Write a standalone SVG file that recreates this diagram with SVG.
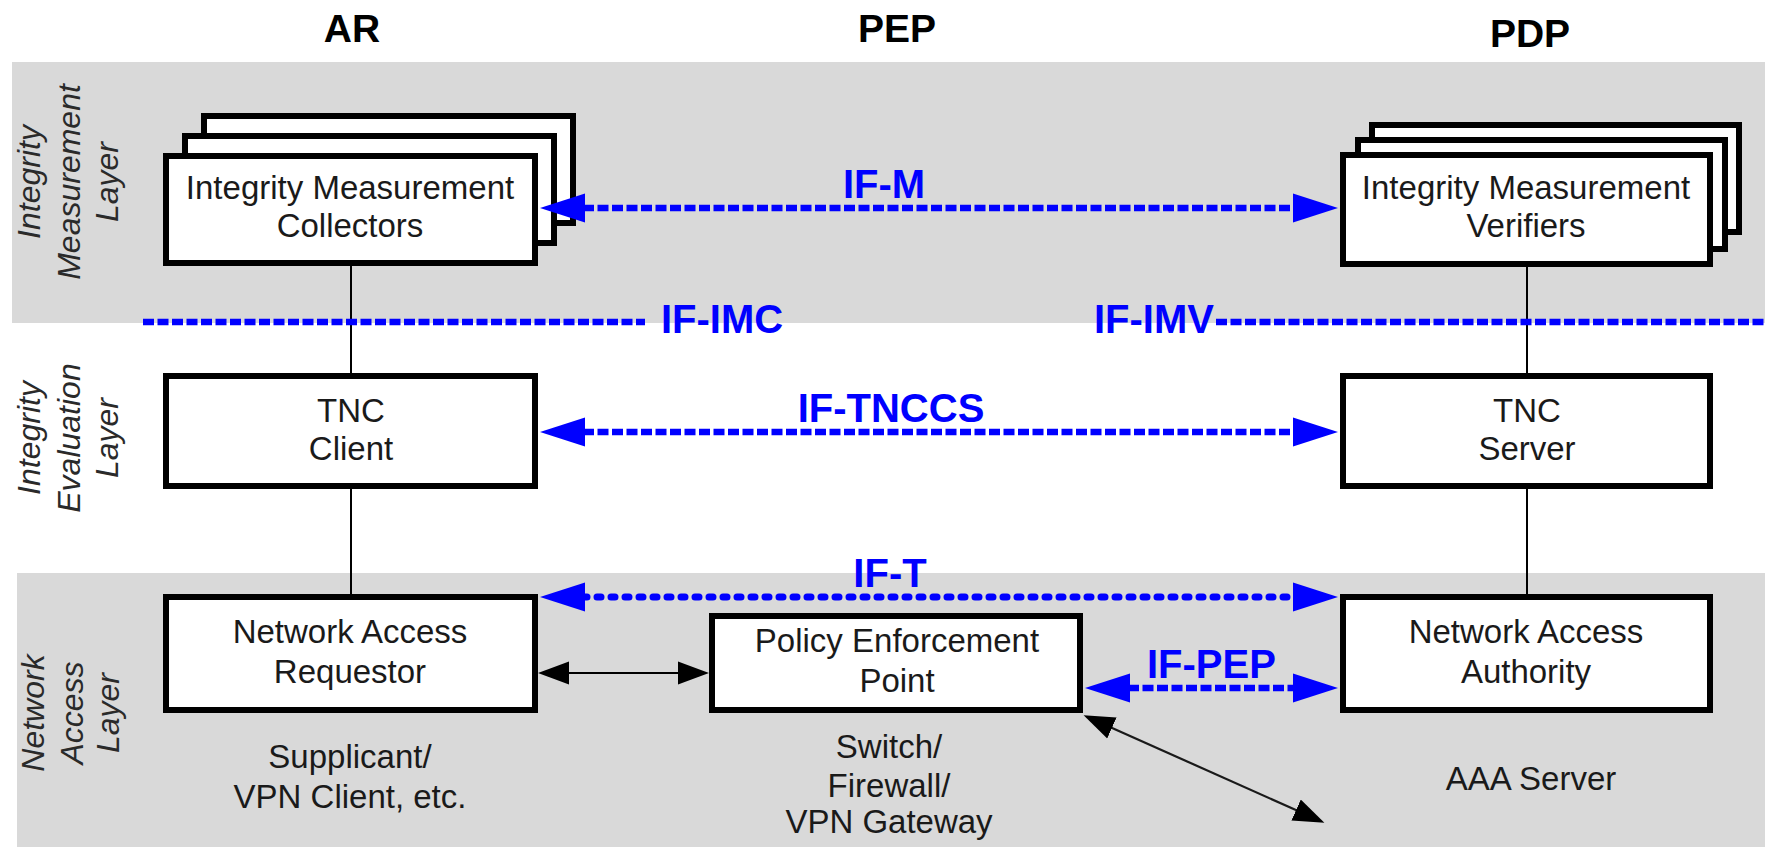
<svg xmlns="http://www.w3.org/2000/svg" width="1765" height="847" viewBox="0 0 1765 847">
<style>
.band{fill:#d9d9d9}
.box{fill:#fff;stroke:#000;stroke-width:6}
.t{font-family:"Liberation Sans",Arial,sans-serif;font-size:33px;fill:#1a1a1a;text-anchor:middle}
.title{font-family:"Liberation Sans",Arial,sans-serif;font-size:39px;font-weight:bold;fill:#000;text-anchor:middle}
.lay{font-family:"Liberation Sans",Arial,sans-serif;font-size:32px;font-style:italic;fill:#2a2a2a;text-anchor:middle}
.if{font-family:"Liberation Sans",Arial,sans-serif;font-size:40px;font-weight:bold;fill:#0000ff}
.dash{fill:none;stroke:#0000ff;stroke-width:6.5;stroke-dasharray:11 3.5}
.dot{fill:none;stroke:#0000ff;stroke-width:7;stroke-linecap:round;stroke-dasharray:4 10}
.thin{fill:none;stroke:#000;stroke-width:2}
.blk{fill:none;stroke:#1a1a1a;stroke-width:2.2}
</style>
<defs>
<marker id="ba" markerUnits="userSpaceOnUse" markerWidth="46" markerHeight="30" viewBox="0 -15 46 30" refX="2" refY="0" orient="auto-start-reverse">
<path d="M0,-14.5 L45,0 L0,14.5 z" fill="#0000ff"/>
</marker>
<marker id="ka" markerUnits="userSpaceOnUse" markerWidth="32" markerHeight="26" viewBox="0 -13 32 26" refX="1" refY="0" orient="auto-start-reverse">
<path d="M0,-11.5 L31,0 L0,11.5 z" fill="#000"/>
</marker>
</defs>
<rect width="1765" height="847" fill="#fff"/>
<g id="bands">
<rect class="band" x="12" y="62" width="1753" height="261"/>
<rect class="band" x="17" y="573" width="1748" height="274"/>
</g>
<g id="titles">
<text class="title" x="352" y="42">AR</text>
<text class="title" x="897" y="42">PEP</text>
<text class="title" x="1530" y="47">PDP</text>
</g>
<g id="layer-labels">
<text class="lay" transform="translate(40,182) rotate(-90)">Integrity</text>
<text class="lay" transform="translate(80,182) rotate(-90)">Measurement</text>
<text class="lay" transform="translate(118,182) rotate(-90)">Layer</text>
<text class="lay" transform="translate(40,438) rotate(-90)">Integrity</text>
<text class="lay" transform="translate(80,438) rotate(-90)">Evaluation</text>
<text class="lay" transform="translate(118,438) rotate(-90)">Layer</text>
<text class="lay" transform="translate(44,713) rotate(-90)">Network</text>
<text class="lay" transform="translate(83,713) rotate(-90)">Access</text>
<text class="lay" transform="translate(119,713) rotate(-90)">Layer</text>
</g>
<g id="links">
<line class="thin" x1="351" y1="266" x2="351" y2="373"/>
<line class="thin" x1="351" y1="489" x2="351" y2="594"/>
<line class="thin" x1="1527" y1="267" x2="1527" y2="373"/>
<line class="thin" x1="1527" y1="489" x2="1527" y2="594"/>
</g>
<g id="imc">
<rect class="box" x="204" y="116" width="369" height="107"/>
<rect class="box" x="185" y="136" width="369" height="107"/>
<rect class="box" x="166" y="156" width="369" height="107"/>
<text class="t" x="350" y="199">Integrity Measurement</text>
<text class="t" x="350" y="237">Collectors</text>
</g>
<g id="imv">
<rect class="box" x="1372" y="125" width="367" height="107"/>
<rect class="box" x="1358" y="140" width="367" height="109"/>
<rect class="box" x="1343" y="155" width="367" height="109"/>
<text class="t" x="1526" y="199">Integrity Measurement</text>
<text class="t" x="1526" y="237">Verifiers</text>
</g>
<g id="tnc-client">
<rect class="box" x="166" y="376" width="369" height="110"/>
<text class="t" x="351" y="422">TNC</text>
<text class="t" x="351" y="460">Client</text>
</g>
<g id="tnc-server">
<rect class="box" x="1343" y="376" width="367" height="110"/>
<text class="t" x="1527" y="422">TNC</text>
<text class="t" x="1527" y="460">Server</text>
</g>
<g id="nar">
<rect class="box" x="166" y="597" width="369" height="113"/>
<text class="t" x="350" y="643">Network Access</text>
<text class="t" x="350" y="683">Requestor</text>
<text class="t" x="350" y="768">Supplicant/</text>
<text class="t" x="350" y="808">VPN Client, etc.</text>
</g>
<g id="pep">
<rect class="box" x="712" y="616" width="368" height="94"/>
<text class="t" x="897" y="652">Policy Enforcement</text>
<text class="t" x="897" y="692">Point</text>
<text class="t" x="889" y="758">Switch/</text>
<text class="t" x="889" y="797">Firewall/</text>
<text class="t" x="889" y="833">VPN Gateway</text>
</g>
<g id="naa">
<rect class="box" x="1343" y="597" width="367" height="113"/>
<text class="t" x="1526" y="643">Network Access</text>
<text class="t" x="1526" y="683">Authority</text>
<text class="t" x="1531" y="790">AAA Server</text>
</g>
<g id="connectors">
<line class="dash" x1="143" y1="322" x2="645" y2="322"/>
<line class="dash" x1="1216" y1="322" x2="1765" y2="322"/>
<line class="dash" x1="583" y1="208" x2="1295" y2="208" marker-start="url(#ba)" marker-end="url(#ba)"/>
<line class="dash" x1="583" y1="432" x2="1295" y2="432" marker-start="url(#ba)" marker-end="url(#ba)"/>
<line class="dot" x1="583" y1="597" x2="1295" y2="597" marker-start="url(#ba)" marker-end="url(#ba)"/>
<line class="dash" x1="1128" y1="688" x2="1295" y2="688" marker-start="url(#ba)" marker-end="url(#ba)"/>
<line class="thin" x1="568" y1="673" x2="679" y2="673" marker-start="url(#ka)" marker-end="url(#ka)"/>
<line class="blk" x1="1111" y1="727.5" x2="1297" y2="810.5" marker-start="url(#ka)" marker-end="url(#ka)"/>
<text class="if" x="884" y="198" text-anchor="middle">IF-M</text>
<text class="if" x="661" y="333">IF-IMC</text>
<text class="if" x="1094" y="333">IF-IMV</text>
<text class="if" x="891" y="422" text-anchor="middle">IF-TNCCS</text>
<text class="if" x="890" y="587" text-anchor="middle">IF-T</text>
<text class="if" x="1147" y="678">IF-PEP</text>
</g>
</svg>
